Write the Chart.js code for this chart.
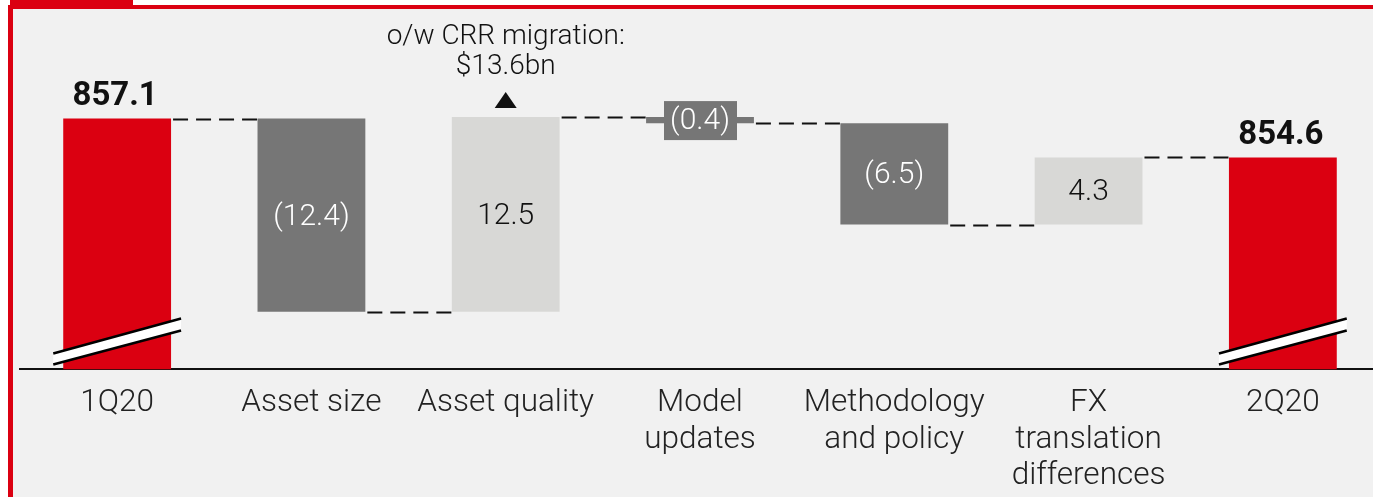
<!DOCTYPE html>
<html>
<head>
<meta charset="utf-8">
<script src="https://cdn.jsdelivr.net/npm/chart.js@4"></script>
<style>
  html, body { margin: 0; padding: 0; background: #fff; overflow: hidden; }
  #frame { position: absolute; left: 8px; top: 5px; width: 1400px; height: 520px;
           border-left: 5px solid #db0011; border-top: 4px solid #db0011; background: #f1f1f1; }
  #tab { position: absolute; left: 10px; top: 0; width: 123px; height: 6px; background: #db0011; }
  #myChart { position: absolute; left: 0; top: 0; }
</style>
</head>
<body>
<div id="frame"></div>
<div id="tab"></div>
<canvas id="myChart" width="1384" height="507"></canvas>
<script>
const categories = [['1Q20'], ['Asset size'], ['Asset quality'], ['Model', 'updates'],
                    ['Methodology', 'and policy'], ['FX', 'translation', 'differences'], ['2Q20']];
const startValue = 857.1;
const endValue = 854.6;
const changes = [-12.4, 12.5, -0.4, -6.5, 4.3];
const valueLabels = ['857.1', '(12.4)', '12.5', '(0.4)', '(6.5)', '4.3', '854.6'];
const axisMin = 841;
const axisMax = 864;
const noteLines = ['o/w CRR migration:', '$13.6bn'];

const RED = '#db0011', DARK = '#767676', LIGHT = '#d8d8d6';
const FONT = 'Roboto, "Liberation Sans", sans-serif';

// build the floating bars from the running total
let bars = [[axisMin, startValue]];
let colors = [RED];
let ends = [startValue];
let total = startValue;
for (let i = 0; i < changes.length; i++) {
    let next = total + changes[i];
    bars.push([total, next]);
    colors.push(changes[i] < 0 ? DARK : LIGHT);
    ends.push(next);
    total = next;
}
bars.push([axisMin, endValue]);
colors.push(RED);
ends.push(endValue);

const extras = {
    id: 'extras',
    afterDatasetsDraw(chart) {
        const ctx = chart.ctx;
        const meta = chart.getDatasetMeta(0);
        const y = chart.scales.y;
        const els = meta.data;
        ctx.save();

        // dashed connectors
        ctx.strokeStyle = '#111';
        ctx.lineWidth = 2;
        ctx.setLineDash([15, 8]);
        for (let i = 0; i < els.length - 1; i++) {
            const py = Math.round(y.getPixelForValue(ends[i])) + 0.5;
            ctx.beginPath();
            ctx.moveTo(els[i].x + els[i].width / 2 + 2, py);
            ctx.lineTo(els[i + 1].x - els[i + 1].width / 2, py);
            ctx.stroke();
        }
        ctx.setLineDash([]);

        // axis break marks on the total bars
        const yb = y.getPixelForValue(axisMin);
        [0, els.length - 1].forEach(i => {
            const L = els[i].x - els[i].width / 2 - 10;
            const R = els[i].x + els[i].width / 2 + 10;
            ctx.fillStyle = '#fff';
            ctx.beginPath();
            ctx.moveTo(L, yb - 16); ctx.lineTo(R, yb - 51);
            ctx.lineTo(R, yb - 39); ctx.lineTo(L, yb - 5);
            ctx.closePath(); ctx.fill();
            ctx.strokeStyle = '#000';
            ctx.lineWidth = 2.5;
            ctx.beginPath(); ctx.moveTo(L, yb - 16); ctx.lineTo(R, yb - 51); ctx.stroke();
            ctx.beginPath(); ctx.moveTo(L, yb - 5); ctx.lineTo(R, yb - 39); ctx.stroke();
        });

        // value labels
        ctx.textAlign = 'center';
        ctx.textBaseline = 'middle';
        for (let i = 0; i < els.length; i++) {
            const el = els[i];
            const top = Math.min(el.y, el.base);
            const mid = (el.y + el.base) / 2;
            if (colors[i] === RED) {
                ctx.font = 'bold 33px ' + FONT;
                ctx.fillStyle = '#111';
                ctx.fillText(valueLabels[i], el.x - 2, top - 22);
            } else if (Math.abs(el.base - el.y) < 30) {
                ctx.fillStyle = DARK;
                ctx.fillRect(el.x - 36, mid - 19, 73, 39);
                ctx.font = '300 30px ' + FONT;
                ctx.fillStyle = '#fff';
                ctx.fillText(valueLabels[i], el.x, mid + 1);
            } else {
                ctx.font = '300 30px ' + FONT;
                ctx.fillStyle = colors[i] === DARK ? '#fff' : '#111';
                ctx.fillText(valueLabels[i], el.x, mid + 2);
            }
        }

        // note above asset quality
        const aq = els[2];
        const aqTop = Math.min(aq.y, aq.base);
        ctx.font = '300 28px ' + FONT;
        ctx.fillStyle = '#111';
        ctx.fillText(noteLines[0], aq.x, aqTop - 80);
        ctx.fillText(noteLines[1], aq.x, aqTop - 50);
        ctx.beginPath();
        ctx.moveTo(aq.x - 11, aqTop - 9);
        ctx.lineTo(aq.x + 11, aqTop - 9);
        ctx.lineTo(aq.x, aqTop - 25);
        ctx.closePath();
        ctx.fill();
        ctx.restore();
    }
};

let barCtx = document.getElementById('myChart').getContext('2d');
let myChart = new Chart(barCtx, {
    type: 'bar',
    data: {
        labels: categories,
        datasets: [{
            data: bars,
            backgroundColor: colors,
            borderWidth: 0,
            barPercentage: 0.555,
            categoryPercentage: 1
        }]
    },
    options: {
        responsive: false,
        animation: false,
        layout: { padding: { left: 20, right: 4, top: 11, bottom: 5 } },
        plugins: { legend: { display: false }, tooltip: { enabled: false } },
        scales: {
            x: {
                grid: { display: false },
                border: { display: true, color: '#111', width: 2 },
                ticks: {
                    color: '#222',
                    padding: 7,
                    maxRotation: 0,
                    autoSkip: false,
                    font: { family: FONT, size: 31.5, weight: '300', lineHeight: 1.17 }
                }
            },
            y: {
                display: false,
                min: axisMin,
                max: axisMax
            }
        }
    },
    plugins: [extras]
});
</script>
</body>
</html>
